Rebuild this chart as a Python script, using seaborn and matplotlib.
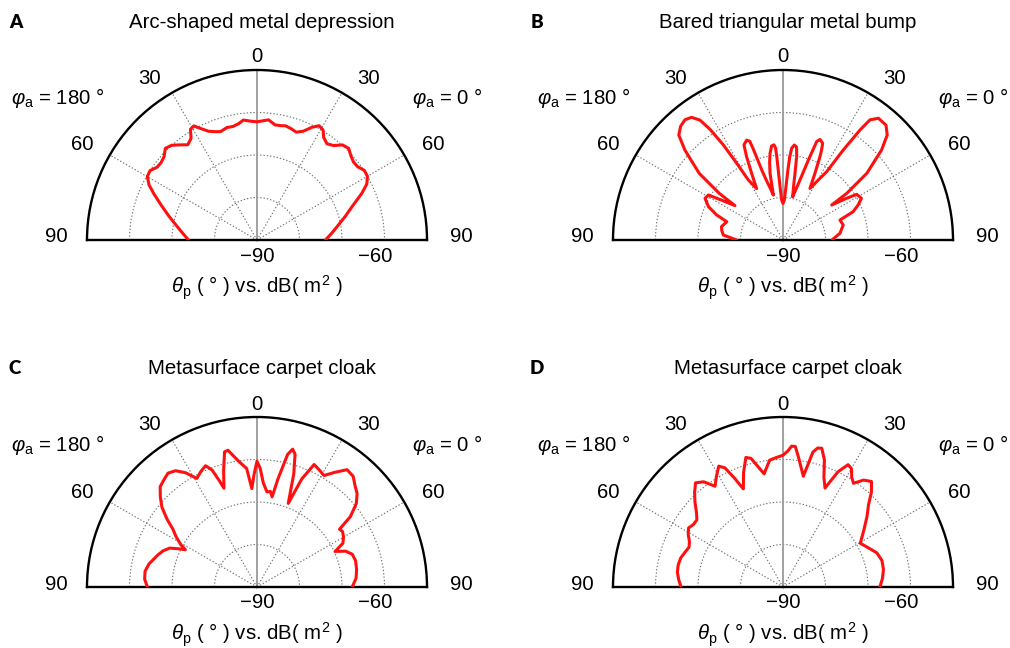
import numpy as np
import matplotlib
matplotlib.use("Agg")
import matplotlib.pyplot as plt
import seaborn as sns

# Panel titles and letters
panel_letters = ["A", "B", "C", "D"]
panel_titles = [
    "Arc-shaped metal depression",
    "Bared triangular metal bump",
    "Metasurface carpet cloak",
    "Metasurface carpet cloak",
]

# Scattering angle theta_p (deg) and RCS (dB m^2)
theta_a = [-90, -85, -80, -75, -70, -66, -63, -60, -57, -54, -51, -48, -45, -42, -39,
           -36, -33, -31, -29, -27, -24, -21, -18.5, -15, -12, -9, -6.5, -3, 0, 3,
           5.5, 9, 12, 14, 17, 20, 23, 26, 28.5, 31, 33, 36, 39, 42, 45,
           48, 51, 54, 57, 60, 63, 66, 70, 75, 80, 85, 90]
rcs_a = [-73.9, -72.5, -70.8, -68.6, -66.0, -63.5, -61.5, -60.2, -60.0, -60.9, -61.0, -60.6, -59.5, -60.0, -61.2,
         -62.3, -61.5, -59.6, -59.3, -60.5, -62.0, -62.7, -63.1, -62.6, -62.7, -62.3, -61.6, -62.0, -62.2, -61.9,
         -61.6, -62.6, -62.5, -62.3, -62.6, -63.0, -62.2, -60.5, -59.4, -59.8, -61.2, -62.0, -61.4, -59.9, -59.5,
         -60.3, -60.8, -60.7, -59.9, -60.0, -61.0, -63.0, -65.9, -68.5, -70.7, -72.4, -73.9]

theta_b = [-90, -85.2, -81, -77.7, -72, -69.3, -65.9, -61.9, -58.9, -57, -54.4,
           -53.8, -51.5, -47.5, -44.8, -42, -39.2, -36.7, -34.7, -33.4, -32.1, -31.1, -30, -27.2,
           -25.2, -23.6, -22.3, -20, -18.6, -18.1, -17.6, -16.8, -15.5, -13.8, -12.1,
           -11, -9.8, -8.5, -6.9, -5.4, -4.6, -4.3, -4.0, -3.2, -1.9, 0,
           1.9, 3.2, 4.0, 4.6, 5.4, 6.8, 8.3, 9.3, 10.2, 11.3, 12.6,
           14.5, 15.8, 17.6, 18.9, 20.2, 22.3, 23.2, 23.9, 25.6, 27.6,
           30.5, 32.6, 33.8, 35, 35.9, 38.1, 41.9, 44.8, 47.6, 51.5, 53.8, 54.3,
           56.5, 58.2, 62, 65, 68, 70.7, 76, 83.3, 90]
rcs_b = [-79.1, -75.9, -75.4, -75.2, -76.1, -73.3, -70.8, -69.2, -69.5, -72.8, -76.1,
         -71.4, -64.8, -58.7, -55.2, -54.0, -53.5, -54.0, -55.7, -58.8, -63.6, -68.9, -73.7, -76.4,
         -72.7, -68.6, -65.8, -65.0, -65.5, -67.5, -70.0, -73.0, -75.5, -77.5, -79.2,
         -74.0, -71.5, -69.4, -67.7, -67.5, -68.3, -70.0, -72.7, -77.4, -80.6, -81.4,
         -80.6, -77.4, -73.5, -70.5, -68.3, -67.5, -67.9, -70.1, -74.1, -77.5, -79.6,
         -77.5, -75.3, -70.3, -65.5, -64.8, -65.4, -67.0, -68.5, -72.6, -76.3,
         -73.6, -70.9, -64.5, -58.4, -55.1, -53.6, -53.7, -55.2, -58.6, -64.8, -71.4, -75.9,
         -72.5, -69.6, -69.1, -70.5, -72.2, -75.8, -75.4, -76.5, -78.5]

theta_c = [-90, -86, -82, -78, -75, -72, -69, -66, -64, -62.5, -61, -58, -55.5, -53, -50,
           -47, -44, -41, -38, -35, -32, -29, -26, -23, -21, -19.5, -18.5, -16, -13.5, -12,
           -10, -8, -5, -3, -1.5, 0, 1.5, 3.5, 6, 8, 9.5, 11, 13, 14.5, 16,
           18, 20.5, 22.5, 25, 28, 31, 34, 37.5, 41, 44, 47, 50, 53, 55, 57,
           60, 63, 65.5, 68, 71, 75, 80, 85, 90]
rcs_c = [-64.2, -63.5, -63.4, -64.0, -64.8, -65.5, -66.3, -67.5, -69.5, -71.0, -69.5, -67.5, -66.0, -63.5, -60.8,
         -58.9, -57.2, -56.6, -56.0, -56.6, -58.3, -60.8, -59.8, -59.0, -60.5, -63.5, -65.5, -61.5, -57.3, -57.1,
         -58.8, -60.3, -62.0, -66.8, -63.5, -60.4, -62.0, -65.5, -67.5, -67.3, -68.5, -64.0, -58.0, -56.5, -57.5,
         -62.0, -69.0, -62.5, -58.2, -58.8, -59.4, -57.5, -55.2, -55.5, -56.8, -57.8, -59.5, -62.5, -66.3, -66.0,
         -66.5, -67.3, -69.8, -67.5, -66.3, -66.0, -66.2, -66.6, -67.6]

theta_d = [-90, -86, -82, -78, -74, -70, -67, -64, -61, -58, -55, -52, -49, -46, -43,
           -40, -37, -34, -31, -28, -26, -24, -22, -19, -16, -14, -12, -9.5, -6, -3,
           0, 2, 3.5, 5, 7, 10.4, 12.5, 14, 15.6, 18, 20.5, 23, 25.5, 28, 30,
           32, 34.2, 37, 40, 43, 46, 50, 55, 60.5, 65, 70, 75, 80, 85, 90]
rcs_d = [-66.0, -65.4, -64.9, -64.8, -65.0, -65.6, -66.0, -65.5, -64.5, -63.8, -64.3, -64.3, -63.0, -61.2, -59.5,
         -58.0, -59.0, -61.4, -59.6, -57.8, -58.8, -62.0, -65.1, -61.5, -58.3, -58.8, -60.8, -63.0, -60.0, -59.5,
         -59.0, -58.0, -56.8, -56.8, -59.5, -63.5, -57.5, -56.3, -56.1, -58.5, -62.5, -64.7, -60.0, -57.4, -57.8,
         -59.5, -60.5, -58.5, -57.6, -59.5, -62.0, -64.2, -66.8, -69.1, -68.0, -66.5, -65.9, -66.0, -66.5, -67.2]

panel_theta = [theta_a, theta_b, theta_c, theta_d]
panel_rcs = [rcs_a, rcs_b, rcs_c, rcs_d]

# Axis annotation
ring_levels = [-80, -70, -60]
spoke_angles = [-60, -30, 30, 60]
angle_labels = ["0", "30", "30", "60", "60", "90", "90"]
r_labels = ["\u221290", "\u221260"]
r_min, r_max = -90, -50
deg = "\u00b0"
phi_left = r"$\varphi_{\rm a}$ = 180 " + deg
phi_right = r"$\varphi_{\rm a}$ = 0 " + deg
theta_label = r"$\theta_{\rm p}$ ( " + deg + r" ) vs. dB( m$^2$ )"

sns.set_theme(style="white")
plt.rcParams["font.family"] = ["Liberation Sans", "DejaVu Sans"]
plt.rcParams["text.color"] = "black"
plt.rcParams["mathtext.fontset"] = "custom"
plt.rcParams["mathtext.rm"] = "Liberation Sans"
plt.rcParams["mathtext.it"] = "Liberation Sans:italic"
plt.rcParams["mathtext.bf"] = "Liberation Sans:bold"

W, H = 1010, 648
fig = plt.figure(figsize=(W / 100, H / 100), dpi=100)
fig.patch.set_facecolor("white")

centers = [(257, 240), (783, 240), (257, 587), (783, 587)]
letter_pos = [(16, 23), (537, 23), (15, 368), (537, 368)]
R = 170
FS = 14.7

# label offsets from the polar origin, in pixels (dx right, dy down)
angle_label_off = [(0, -183), (-108, -162), (111, -162), (-175, -95),
                   (176, -95), (-201, -3), (204, -3)]


def put(cx, cy, dx, dy, s, **kw):
    fig.text((cx + dx) / W, 1 - (cy + dy) / H, s, ha="center", va="center",
             fontsize=kw.pop("fontsize", FS), **kw)


for i in range(4):
    cx, cy = centers[i]
    # square box; the half-disc fills its width and sits in its middle
    ax = fig.add_axes([(cx - R) / W, (H - cy - R / 2) / H, 2 * R / W, 2 * R / H],
                      projection="polar")
    ax.set_theta_zero_location("N")
    ax.set_theta_direction(-1)
    ax.set_thetamin(-90)
    ax.set_thetamax(90)
    ax.set_ylim(r_min, r_max)
    ax.set_yticks(ring_levels)
    ax.set_yticklabels([])
    ax.set_xticks(np.deg2rad(spoke_angles))
    ax.set_xticklabels([])
    ax.tick_params(length=0)
    ax.grid(True, linestyle=(0, (1.2, 1.8)), color="#6f6f6f", linewidth=0.8)
    ax.set_facecolor("white")

    # vertical reference spoke
    ax.plot([0, 0], [r_min, r_max], color="#9a9a9a", lw=1.3, zorder=2)

    sns.lineplot(x=np.deg2rad(panel_theta[i]), y=panel_rcs[i], ax=ax, sort=False,
                 estimator=None, color="#ff1010", lw=2.2, zorder=3,
                 solid_joinstyle="round", solid_capstyle="round")
    ax.set_xlabel("")
    ax.set_ylabel("")

    ax.spines["polar"].set_color("black")
    ax.spines["polar"].set_linewidth(1.7)
    for s in ("start", "end"):
        ax.spines[s].set_color("black")
        ax.spines[s].set_linewidth(1.7)
    ax.spines["inner"].set_visible(False)

    for lab, (dx, dy) in zip(angle_labels, angle_label_off):
        put(cx, cy, dx, dy, lab)
    put(cx, cy, 0, 16, r_labels[0])
    put(cx, cy, 118, 16, r_labels[1])
    put(cx, cy, -199.5, -142, phi_left)
    put(cx, cy, 190.5, -142, phi_right)
    put(cx, cy, 0, 48, theta_label)
    put(cx, cy, 5, -218, panel_titles[i])

    lx, ly = letter_pos[i]
    fig.text(lx / W, 1 - ly / H, panel_letters[i], ha="center", va="center",
             fontsize=13.5, fontweight="heavy", family=["Lato", "DejaVu Sans"])

fig.savefig("out.png", dpi=100, facecolor="white")
